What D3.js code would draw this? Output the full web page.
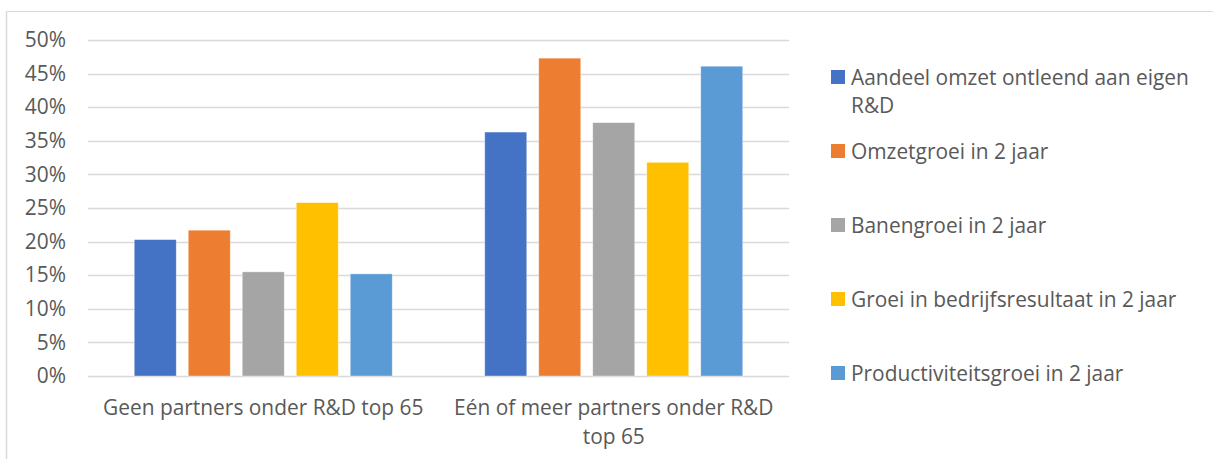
<!DOCTYPE html>
<html>
<head>
<meta charset="utf-8">
<script src="https://cdn.jsdelivr.net/npm/d3@7"></script>
<style>
  html, body { margin: 0; padding: 0; background: #fff; }
  svg { display: block; }
  text { font-family: "Open Sans", "Noto Sans", sans-serif; fill: #595959; }
</style>
</head>
<body>
<svg id="chart" width="1213" height="459"></svg>
<script>
// Categories (x groups)
const categories = [
  ["Geen partners onder R&D top 65"],
  ["Eén of meer partners onder R&D", "top 65"]
];
// Series names (legend), split into display lines
const seriesNames = [
  ["Aandeel omzet ontleend aan eigen", "R&D"],
  ["Omzetgroei in 2 jaar"],
  ["Banengroei in 2 jaar"],
  ["Groei in bedrijfsresultaat in 2 jaar"],
  ["Productiviteitsgroei in 2 jaar"]
];
const seriesColors = ["#4472C4", "#ED7D31", "#A5A5A5", "#FFC000", "#5B9BD5"];
// Values per series: [Geen partners, Eén of meer partners]
const aandeelOmzet   = [0.203, 0.363];
const omzetgroei     = [0.217, 0.473];
const banengroei     = [0.155, 0.377];
const groeiResultaat = [0.258, 0.318];
const productiviteit = [0.152, 0.461];
const seriesValues = [aandeelOmzet, omzetgroei, banengroei, groeiResultaat, productiviteit];
const yTicks = [0, 0.05, 0.10, 0.15, 0.20, 0.25, 0.30, 0.35, 0.40, 0.45, 0.50];

const FONT = 20.9;
const svg = d3.select("#chart");

// Chart frame (top and left edges visible)
svg.append("line").attr("x1", 6.5).attr("x2", 1213).attr("y1", 11.5).attr("y2", 11.5)
  .attr("stroke", "#d9d9d9").attr("stroke-width", 1);
svg.append("line").attr("x1", 6.5).attr("x2", 6.5).attr("y1", 11.5).attr("y2", 459)
  .attr("stroke", "#d9d9d9").attr("stroke-width", 1.5);

const plot = { left: 88, right: 789, top: 40, bottom: 376 };

const x0 = d3.scaleBand()
  .domain(d3.range(categories.length))
  .range([plot.left, plot.right])
  .paddingInner(0).paddingOuter(0);

const y = d3.scaleLinear().domain([0, 0.5]).range([plot.bottom, plot.top]);

// Gridlines
svg.append("g").selectAll("line").data(yTicks).join("line")
  .attr("x1", plot.left).attr("x2", plot.right)
  .attr("y1", d => Math.round(y(d)) + 0.5).attr("y2", d => Math.round(y(d)) + 0.5)
  .attr("stroke", "#d9d9d9").attr("stroke-width", 1.3);

// Y axis labels
const yAxis = d3.axisLeft(y).tickValues(yTicks).tickFormat(d3.format(".0%")).tickSize(0).tickPadding(0);
const yg = svg.append("g").attr("transform", `translate(66,0)`).call(yAxis);
yg.select(".domain").remove();
yg.selectAll("text").attr("font-size", FONT).attr("fill", "#595959")
  .attr("font-family", "'Open Sans', 'Noto Sans', sans-serif");

// Bars
const groupWidth = 258;
const x1 = d3.scaleBand()
  .domain(d3.range(seriesValues.length))
  .range([0, groupWidth])
  .paddingInner(12 / 54);

const groups = svg.append("g").selectAll("g").data(categories).join("g")
  .attr("transform", (d, i) => `translate(${x0(i) + (x0.bandwidth() - groupWidth) / 2},0)`);

groups.selectAll("rect")
  .data((d, i) => seriesValues.map((vals, s) => ({ s, v: vals[i] })))
  .join("rect")
  .attr("x", d => x1(d.s))
  .attr("width", x1.bandwidth())
  .attr("y", d => y(d.v))
  .attr("height", d => y(0) - y(d.v))
  .attr("fill", d => seriesColors[d.s])
  .attr("stroke", "#ffffff").attr("stroke-opacity", 0.5).attr("stroke-width", 0.75);

// Category labels
const catG = svg.append("g");
categories.forEach((lines, i) => {
  const t = catG.append("text")
    .attr("x", x0(i) + x0.bandwidth() / 2)
    .attr("y", 415)
    .attr("text-anchor", "middle")
    .attr("font-size", FONT);
  lines.forEach((ln, k) => t.append("tspan")
    .attr("x", x0(i) + x0.bandwidth() / 2)
    .attr("dy", k === 0 ? 0 : 29)
    .text(ln));
});

// Legend
const legendY = [77, 151, 225, 299, 373];
const legend = svg.append("g");
seriesNames.forEach((lines, s) => {
  const cy = legendY[s];
  legend.append("rect")
    .attr("x", 831).attr("y", cy - 7).attr("width", 14).attr("height", 14)
    .attr("fill", seriesColors[s]);
  const t = legend.append("text")
    .attr("x", 851).attr("y", cy + 7.5)
    .attr("font-size", FONT);
  lines.forEach((ln, k) => t.append("tspan")
    .attr("x", 851).attr("dy", k === 0 ? 0 : 28).text(ln));
});
</script>
</body>
</html>
